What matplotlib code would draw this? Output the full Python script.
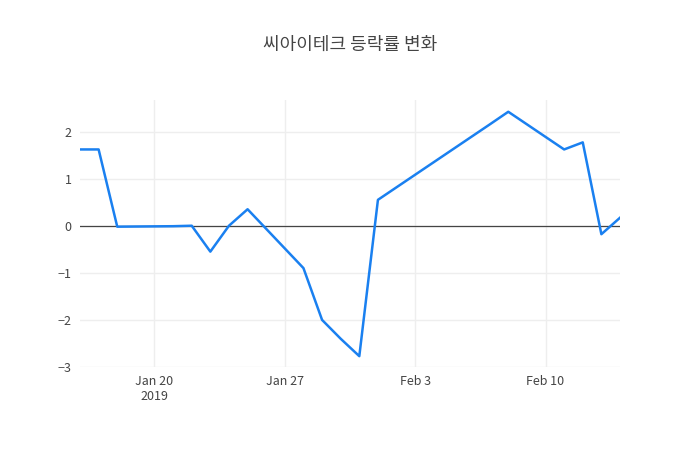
import numpy as np
import matplotlib; matplotlib.use("Agg")
import matplotlib.pyplot as plt
import matplotlib.dates as mdates

plt.rcParams['font.family'] = ['Noto Sans CJK KR', 'DejaVu Sans']

# --- data ---
dates = ['2019-01-16','2019-01-17','2019-01-18','2019-01-21','2019-01-22','2019-01-23',
         '2019-01-24','2019-01-25','2019-01-28','2019-01-29','2019-01-30','2019-01-31',
         '2019-02-01','2019-02-07','2019-02-08','2019-02-11','2019-02-12','2019-02-13','2019-02-14']
rates = [1.62, 1.62, -0.02, -0.01, 0.0, -0.55, 0.0, 0.35, -0.9, -2.0, -2.4, -2.77,
         0.55, 2.15, 2.42, 1.62, 1.77, -0.18, 0.17]
d = np.array(dates, dtype='datetime64[D]')

fig = plt.figure(figsize=(7, 4.5), dpi=100)
ax = fig.add_axes([80/700, 1-367/450, 540/700, 267/450])
ax.plot(d, rates, color='#1a80f0', lw=1.8, zorder=3)
ax.axhline(0, color='#444444', lw=0.9, zorder=2)
ax.set_xlim(d[0], d[-1])
ax.set_ylim(-3, 2.67)
ax.set_yticks([-3, -2, -1, 0, 1, 2])
ax.set_yticklabels(['\u22123', '\u22122', '\u22121', '0', '1', '2'])
ticks = np.array(['2019-01-20', '2019-01-27', '2019-02-03', '2019-02-10'], dtype='datetime64[D]')
ax.set_xticks(ticks)
ax.set_xticklabels(['Jan 20\n2019', 'Jan 27', 'Feb 3', 'Feb 10'])
ax.grid(True, color='#eeeeee', lw=1, zorder=0)
for s in ax.spines.values():
    s.set_visible(False)
ax.tick_params(length=0, labelsize=9, colors='#444444', pad=6)
fig.text(0.5, 1-45/450, '씨아이테크 등락률 변화', ha='center', va='center', fontsize=13, color='#444444')
fig.savefig('out.png', dpi=100)
